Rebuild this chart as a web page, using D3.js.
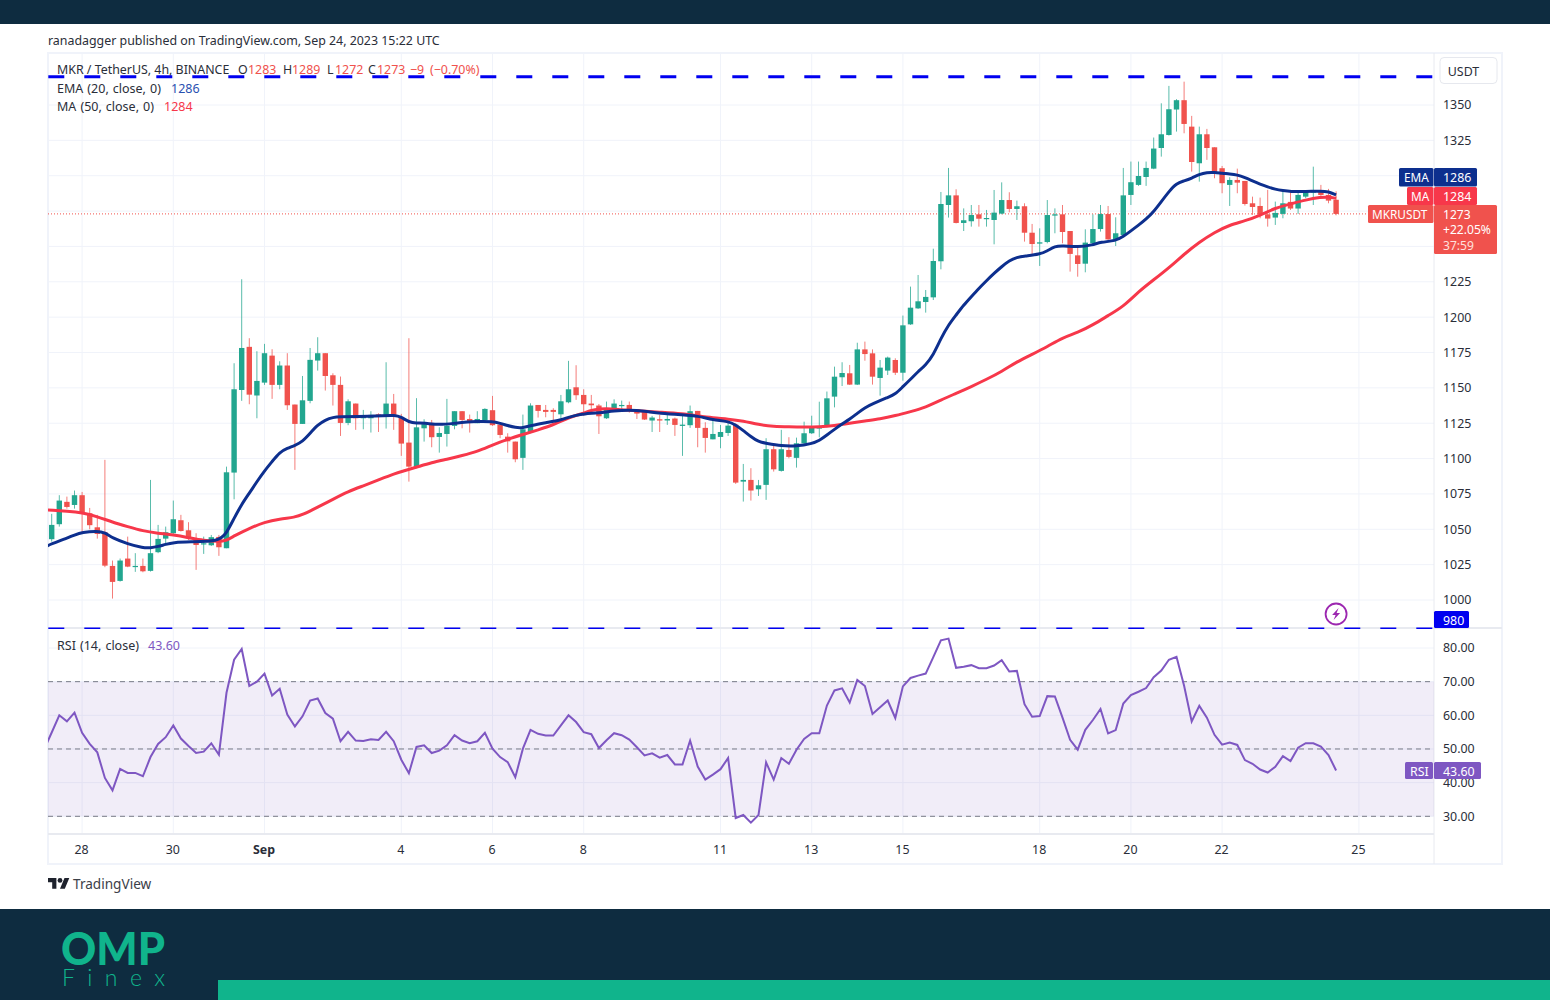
<!DOCTYPE html>
<html>
<head>
<meta charset="utf-8">
<script src="https://cdn.jsdelivr.net/npm/d3@7"></script>
<style>
    html, body { margin: 0; padding: 0; background: #fff; }
    svg { display: block; }
</style>
</head>
<body>
<div id="chart"></div>
<script>
// candles, 4h, one entry per bar
const open = [
    1043.0,1053.6,1069.4,1067.2,1074.1,1061.3,1051.4,1047.9,1024.1,1013.5,
    1029.3,1023.6,1024.1,1020.6,1033.8,1043.4,1047.2,1056.4,1049.3,1043.7,
    1039.4,1038.7,1044.6,1036.6,1090.1,1148.5,1179.0,1144.6,1153.7,1172.8,
    1152.1,1165.8,1138.2,1124.5,1140.8,1169.3,1174.5,1158.9,1152.1,1125.2,
    1138.9,1128.5,1128.5,1131.3,1129.9,1138.9,1129.0,1111.3,1093.9,1121.4,
    1125.2,1115.3,1117.4,1123.1,1133.5,1128.0,1125.0,1127.1,1134.2,1124.0,
    1115.5,1112.0,1100.5,1118.4,1137.9,1134.4,1134.4,1131.3,1139.8,1150.4,
    1145.0,1138.9,1137.5,1128.5,1133.9,1137.2,1137.9,1134.9,1133.5,1126.9,
    1127.8,1126.9,1128.3,1123.1,1123.6,1133.7,1121.7,1113.6,1115.3,1118.1,
    1124.0,1083.7,1084.9,1078.3,1081.4,1106.6,1091.3,1106.1,1100.5,1110.8,
    1117.9,1121.2,1122.6,1143.8,1157.5,1160.3,1152.3,1177.2,1174.4,1157.0,
    1162.2,1169.7,1160.7,1194.9,1206.2,1210.7,1214.0,1239.5,1279.3,1286.1,
    1266.6,1267.8,1272.7,1269.4,1268.7,1273.2,1282.8,1276.5,1278.4,1259.7,
    1252.0,1253.1,1271.8,1272.7,1260.9,1243.7,1237.8,1252.2,1262.3,1272.9,
    1255.0,1258.1,1286.4,1293.5,1299.1,1305.0,1319.6,1328.8,1346.8,1353.4,
    1334.7,1308.8,1329.3,1320.1,1305.3,1293.5,1297.0,1296.3,1280.5,1278.6,
    1272.7,1270.4,1273.0,1281.5,1276.8,1285.2,1288.0,1289.5,1286.4,1283
];
const close = [
    1053.1,1070.3,1065.8,1074.1,1061.8,1052.9,1046.7,1024.3,1012.8,1027.9,
    1023.6,1024.1,1020.3,1033.1,1043.2,1047.9,1057.1,1048.8,1043.7,1038.9,
    1040.1,1044.4,1037.3,1090.3,1149.0,1178.2,1145.2,1154.9,1174.5,1152.1,
    1165.8,1137.7,1124.5,1141.2,1169.8,1174.5,1158.4,1152.1,1125.2,1140.5,
    1128.5,1130.4,1130.9,1129.4,1138.9,1129.9,1110.6,1094.3,1122.1,1124.3,
    1115.1,1118.1,1123.3,1133.5,1127.3,1125.2,1128.0,1135.1,1123.6,1116.7,
    1112.2,1099.5,1120.7,1137.5,1133.7,1133.0,1133.0,1140.5,1149.0,1144.8,
    1138.4,1137.7,1129.9,1134.9,1138.9,1137.9,1134.9,1131.8,1127.6,1129.0,
    1126.9,1128.0,1123.8,1124.0,1133.5,1121.7,1114.6,1117.4,1118.8,1123.3,
    1083.0,1084.9,1077.4,1081.1,1106.6,1092.4,1106.6,1101.2,1110.8,1117.9,
    1122.1,1122.1,1142.6,1157.9,1160.5,1152.3,1177.2,1173.9,1157.9,1164.3,
    1171.4,1160.7,1194.2,1206.7,1211.2,1214.3,1239.7,1280.0,1286.1,1266.6,
    1268.5,1272.2,1269.6,1270.1,1273.9,1282.8,1276.5,1278.4,1259.7,1251.7,
    1252.9,1272.2,1272.7,1260.2,1244.7,1237.6,1252.7,1262.3,1272.9,1255.0,
    1259.3,1286.1,1295.4,1299.8,1305.5,1319.2,1329.3,1347.0,1353.4,1336.6,
    1309.7,1329.3,1319.6,1301.3,1294.7,1297.0,1295.1,1280.0,1277.9,1272.7,
    1269.7,1273.7,1280.5,1276.8,1286.4,1289.5,1289.2,1286.4,1282.4,1273
];
const high = [
    1060.9,1074.1,1073.1,1077.4,1076.4,1065.1,1060.2,1099.1,1027.9,1029.3,
    1044.8,1033.1,1029.3,1084.9,1053.1,1051.9,1070.3,1060.2,1055.0,1047.2,
    1044.8,1046.0,1046.0,1094.3,1167.4,1226.8,1185.1,1175.9,1181.1,1177.3,
    1168.8,1174.5,1138.2,1158.4,1178.2,1185.8,1174.5,1160.3,1158.0,1141.9,
    1138.9,1134.4,1133.5,1132.0,1168.1,1145.7,1131.6,1185.1,1142.7,1127.8,
    1127.3,1122.1,1142.2,1133.5,1133.5,1131.1,1133.5,1135.6,1144.3,1124.0,
    1117.9,1112.0,1131.1,1139.1,1137.9,1137.9,1135.6,1145.0,1169.1,1166.0,
    1149.0,1145.0,1138.6,1140.3,1141.9,1141.0,1140.3,1134.9,1133.9,1130.2,
    1130.9,1130.9,1129.0,1131.6,1137.5,1133.7,1125.7,1128.5,1123.8,1128.5,
    1125.0,1096.2,1093.2,1084.9,1114.4,1110.8,1120.3,1115.1,1114.8,1126.1,
    1130.3,1140.2,1147.4,1165.0,1168.1,1166.2,1181.9,1182.7,1177.2,1169.7,
    1172.1,1170.9,1201.1,1221.6,1229.8,1219.2,1248.4,1288.5,1305.5,1290.4,
    1276.9,1279.3,1279.3,1275.8,1289.9,1295.3,1288.3,1282.4,1280.5,1265.9,
    1262.8,1282.8,1276.9,1279.3,1260.9,1249.8,1262.1,1272.7,1279.3,1278.6,
    1270.6,1305.5,1310.0,1310.0,1310.0,1327.0,1351.2,1363.5,1354.1,1366.5,
    1342.3,1334.7,1333.1,1320.1,1306.9,1298.9,1305.0,1296.3,1285.2,1284.5,
    1290.0,1281.7,1288.8,1289.5,1289.5,1289.5,1306.4,1293.5,1290.7,1289
];
const low = [
    1041.3,1051.9,1064.6,1064.6,1047.2,1050.0,1043.4,1023.2,1001.0,1013.0,
    1023.2,1019.9,1019.6,1020.1,1033.1,1038.9,1046.7,1048.4,1042.5,1021.3,
    1032.6,1038.2,1031.2,1036.6,1071.2,1140.8,1138.4,1128.5,1152.1,1142.2,
    1149.0,1134.4,1092.0,1124.5,1139.1,1162.2,1148.1,1137.5,1116.0,1123.6,
    1120.3,1120.7,1118.4,1118.8,1121.2,1120.3,1101.9,1083.7,1093.2,1112.0,
    1108.0,1104.2,1108.5,1120.7,1121.4,1118.4,1125.0,1126.2,1123.1,1114.4,
    1104.2,1097.4,1092.0,1117.9,1129.0,1129.2,1127.3,1128.5,1139.1,1141.5,
    1130.2,1132.0,1117.4,1128.0,1133.5,1133.5,1132.5,1128.0,1127.3,1118.8,
    1118.8,1123.8,1116.0,1101.9,1121.7,1108.0,1104.2,1113.6,1107.3,1116.0,
    1082.1,1069.6,1070.3,1073.6,1070.8,1090.8,1090.8,1100.2,1093.6,1109.6,
    1117.4,1115.0,1122.1,1136.2,1151.3,1152.0,1152.0,1169.2,1152.3,1144.5,
    1159.1,1159.1,1155.1,1194.5,1205.8,1203.2,1212.1,1233.8,1270.4,1266.3,
    1260.9,1264.0,1264.0,1264.0,1251.5,1272.7,1274.1,1268.7,1253.4,1243.2,
    1236.2,1252.2,1259.3,1252.2,1232.2,1228.6,1231.7,1251.7,1260.5,1254.6,
    1250.3,1256.9,1279.3,1292.8,1292.8,1304.6,1313.5,1328.4,1331.2,1330.0,
    1302.9,1295.8,1311.2,1298.2,1287.6,1278.6,1287.6,1278.9,1272.3,1269.9,
    1264.0,1265.2,1269.9,1275.8,1273.0,1284.1,1279.3,1285.7,1280.5,1272
];

// EMA 20 at these bars
const emaBars = [-1,0,2,3,4,6,7,8,10,12,13,14,15,16,18,22,23,24,25,26,27,28,29,30,31,32,33,34,35,36,37,38,40,44,45,46,47,48,
    49,51,53,56,58,59,60,61,62,63,65,67,68,69,70,72,74,76,78,80,83,85,87,89,90,91,92,93,94,96,98,
    100,101,102,103,104,105,106,107,108,110,111,112,113,114,115,116,117,118,119,120,121,122,123,124,125,126,127,128,130,131,132,133,135,137,138,140,141,
    142,143,144,145,146,147,148,149,150,151,152,153,154,155,156,157,158,159,160,161,162,163,165,167,168,169];
const emaValues = [1037.3,1039.7,1043.7,1046.0,1047.9,1048.8,1047.7,1043.7,1039.7,1036.8,1036.8,1037.8,1039.4,1040.6,1041.3,1041.3,1047.2,1057.8,1067.7,1075.5,1083.7,1091.3,1097.9,1104.5,1107.3,1109.2,1112.0,1117.9,1123.8,1127.3,1129.2,1129.5,1129.7,1130.4,1130.6,1129.5,1125.7,1125.0,
    1125.2,1123.8,1125.0,1126.4,1126.2,1125.0,1123.3,1121.9,1121.7,1123.3,1125.4,1127.3,1129.2,1130.6,1131.6,1132.3,1133.7,1134.4,1133.5,1132.0,1130.9,1130.2,1127.3,1126.4,1123.8,1119.8,1115.5,1111.8,1110.8,1108.9,1108.7,
    1110.5,1112.7,1116.7,1120.7,1124.5,1127.8,1132.0,1136.0,1138.6,1143.3,1145.4,1150.9,1156.0,1161.5,1166.2,1173.2,1185.0,1194.5,1201.5,1208.6,1214.5,1220.4,1225.8,1231.0,1235.7,1240.0,1242.3,1243.2,1244.4,1246.8,1250.1,1250.6,1249.4,1251.0,1253.1,1253.9,1257.0,
    1261.0,1265.0,1269.2,1274.6,1281.7,1288.8,1294.7,1296.3,1298.2,1301.0,1302.4,1302.4,1301.7,1301.3,1300.6,1298.7,1296.3,1294.0,1292.1,1290.4,1289.5,1288.8,1288.8,1289.2,1288.8,1286.4];

// MA 50
const maBars = [-1,0,2,4,6,8,10,12,14,16,18,20,22,23,24,26,28,30,32,33,35,37,39,41,43,45,47,48,
    50,52,54,56,58,60,62,64,66,68,70,71,73,75,77,80,83,85,87,89,91,93,95,97,99,101,
    103,105,107,109,111,113,115,117,119,121,123,125,127,129,131,133,135,137,139,141,143,
    145,147,149,151,153,155,157,159,161,163,165,167,168,169];
const maValues = [1063.7,1063.5,1062.8,1061.8,1059.0,1055.0,1051.9,1048.8,1047.2,1046.0,1044.1,1042.0,1041.3,1042.0,1045.3,1050.7,1055.0,1057.3,1058.5,1060.2,1065.6,1071.2,1076.7,1080.7,1084.9,1089.2,1092.4,1093.9,
    1097.2,1099.5,1102.1,1104.9,1109.7,1113.7,1117.0,1120.3,1123.8,1129.0,1132.0,1134.4,1135.6,1134.4,1133.9,1132.8,1131.8,1130.2,1128.7,1128.0,1126.6,1124.0,1122.6,1122.4,1122.4,1122.4,
    1123.3,1124.9,1126.6,1128.0,1130.3,1133.2,1136.2,1141.4,1146.1,1150.9,1156.0,1161.5,1168.5,1173.7,1179.1,1185.5,1189.0,1194.5,1201.1,1207.4,1218.0,
    1226.4,1234.8,1244.5,1253.0,1260.0,1265.2,1268.0,1272.0,1277.2,1280.0,1282.9,1284.8,1285.0,1284];

// RSI 14, first value is the bar just off the left edge
const rsiValues = [49.8,
    54.9,60.0,58.2,60.8,54.8,51.5,49.0,41.4,37.7,44.1,
    42.9,42.9,41.9,47.6,51.5,53.5,57.0,53.1,50.9,48.8,
    49.2,51.7,48.3,66.7,76.5,79.7,68.7,70.0,72.4,65.9,
    67.9,60.2,56.7,59.7,64.4,65.0,60.7,59.0,52.3,55.1,
    52.5,52.4,52.9,52.7,55.1,52.3,46.8,42.8,50.6,51.1,
    48.8,49.5,51.1,54.1,52.5,51.7,52.3,54.8,50.1,47.6,
    46.1,41.6,50.1,55.7,54.5,54.0,54.0,57.0,60.0,58.0,
    55.0,54.4,50.3,52.6,54.7,54.1,52.8,50.5,48.1,48.7,
    47.4,48.2,45.4,45.4,52.5,44.8,40.9,42.4,44.0,47.3,
    29.5,30.4,28.1,30.4,46.0,40.9,47.3,45.6,49.8,53.0,
    54.7,54.7,62.9,67.4,68.0,63.8,70.5,68.7,60.4,62.4,
    64.4,59.2,68.6,71.1,71.8,72.4,77.3,82.3,82.8,74.1,
    74.4,74.9,74.0,74.0,74.8,76.4,73.0,73.2,63.3,59.6,
    59.8,65.7,65.6,59.3,52.7,49.8,55.7,58.6,61.9,54.6,
    55.6,63.5,66.0,67.0,68.1,71.3,73.3,76.5,77.4,68.8,
    58.2,62.8,59.3,54.2,51.3,51.9,51.2,46.7,45.6,43.9,
    43.0,44.7,47.9,46.4,50.4,51.7,51.7,50.7,48.2,43.6
];

const priceGrid = [1000,1025,1050,1075,1100,1125,1150,1175,1200,1225,1250,1275,1300,1325,1350];
const priceLabels = [1000,1025,1050,1075,1100,1125,1150,1175,1200,1225,1325,1350];
const rsiTicks = [30,40,50,60,70,80];
const rsiLevels = [30,50,70];
const dateBars = [4,16,28,46,58,70,88,100,112,130,142,154,172];
const dateLabels = ["28","30","Sep","4","6","8","11","13","15","18","20","22","25"];
const resistance = 1370;
const support = 980;

const width = 1550, height = 1000;
const left = 48, right = 1502, axisX = 1434;
const mainTop = 53, mainBottom = 628, rsiBottom = 834, chartBottom = 864;

const up = "#22a68f", down = "#f0524d", emaColor = "#0d2f8e", maColor = "#f7374a", rsiColor = "#7e57c2";
const navy = "#0e2c40", teal = "#10b48c";
const textColor = "#2a2e39", font = "'Noto Sans', sans-serif";

const x = d3.scaleLinear().domain([0, 169]).range([51.7, 51.7 + 7.6 * 169]);
const y = d3.scaleLinear().domain([1000, 1350]).range([600, 105]);
const yRsi = d3.scaleLinear().domain([30, 80]).range([816.3, 648]);

const svg = d3.select("#chart").append("svg")
    .attr("width", width)
    .attr("height", height)
    .attr("viewBox", [0, 0, width, height])
    .style("font-family", font);

svg.append("defs").append("clipPath").attr("id", "main-clip")
    .append("rect").attr("x", left).attr("y", mainTop).attr("width", axisX - left).attr("height", mainBottom - mainTop);
svg.select("defs").append("clipPath").attr("id", "rsi-clip")
    .append("rect").attr("x", left).attr("y", mainBottom).attr("width", axisX - left).attr("height", rsiBottom - mainBottom);

// banner top and bottom
svg.append("rect").attr("width", width).attr("height", 24).attr("fill", navy);
svg.append("rect").attr("y", 909).attr("width", width).attr("height", 91).attr("fill", navy);
svg.append("rect").attr("x", 218).attr("y", 980).attr("width", width - 218).attr("height", 20).attr("fill", teal);
svg.append("text").attr("x", 61).attr("y", 965).text("OMP")
    .attr("font-family", "Lato, sans-serif").attr("font-weight", 900).attr("font-size", 45)
    .attr("textLength", 104).attr("lengthAdjust", "spacingAndGlyphs").attr("fill", teal);
svg.append("text").attr("x", 62).attr("y", 986).text("Finex")
    .attr("font-family", "Lato, sans-serif").attr("font-weight", 300).attr("font-size", 23)
    .attr("textLength", 103).attr("fill", teal);

svg.append("text").attr("x", 48).attr("y", 44.5).attr("font-size", 12.4).attr("fill", textColor)
    .text("ranadagger published on TradingView.com, Sep 24, 2023 15:22 UTC");

// grid
const grid = svg.append("g").attr("stroke", "#f0f3fa").attr("stroke-width", 1);
grid.selectAll(".h").data(priceGrid).join("line").attr("class", "h")
    .attr("x1", left).attr("x2", axisX).attr("y1", d => y(d)).attr("y2", d => y(d));
grid.selectAll(".r").data(rsiTicks).join("line").attr("class", "r")
    .attr("x1", left).attr("x2", axisX).attr("y1", d => yRsi(d)).attr("y2", d => yRsi(d));
grid.selectAll(".v").data(dateBars).join("line").attr("class", "v")
    .attr("x1", d => x(d)).attr("x2", d => x(d)).attr("y1", mainTop).attr("y2", rsiBottom);

// chart frame and pane separators
const frame = svg.append("g").attr("stroke", "#e8eaf0").attr("fill", "none");
frame.append("rect").attr("x", left).attr("y", mainTop).attr("width", right - left).attr("height", chartBottom - mainTop).attr("stroke", "#f0f3fa").attr("stroke-width", 2);
frame.append("line").attr("x1", axisX).attr("x2", axisX).attr("y1", mainTop).attr("y2", chartBottom);
frame.append("line").attr("x1", left).attr("x2", right).attr("y1", mainBottom).attr("y2", mainBottom).attr("stroke-width", 2);
frame.append("line").attr("x1", left).attr("x2", axisX).attr("y1", rsiBottom).attr("y2", rsiBottom).attr("stroke-width", 2);

// last price dotted line
svg.append("line").attr("x1", left).attr("x2", axisX).attr("y1", y(1273)).attr("y2", y(1273))
    .attr("stroke", down).attr("stroke-dasharray", "1 2");

// legend text, sits under the drawn resistance line
const legendRow = [
    ["MKR / TetherUS, 4h, BINANCE", 57, textColor],
    ["O", 238, textColor], ["1283", 248, down],
    ["H", 283, textColor], ["1289", 292, down],
    ["L", 327, textColor], ["1272", 335, down],
    ["C", 368, textColor], ["1273", 377, down],
    ["−9", 410, down], ["(−0.70%)", 430, down]
];
svg.append("g").attr("font-size", 12.4).selectAll("text").data(legendRow).join("text")
    .attr("x", d => d[1]).attr("y", 74).attr("fill", d => d[2]).text(d => d[0]);
const legend = (label, lx, value, vx, color, ly) => {
    svg.append("text").attr("x", lx).attr("y", ly).attr("font-size", 12.5).attr("word-spacing", 0.8).attr("fill", textColor).text(label);
    svg.append("text").attr("x", vx).attr("y", ly).attr("font-size", 12.5).attr("fill", color).text(value);
};
legend("EMA (20, close, 0)", 57, "1286", 171, "#2850b0", 92.5);
legend("MA (50, close, 0)", 57, "1284", 164, maColor, 111);
legend("RSI (14, close)", 57, "43.60", 148, rsiColor, 649.5);

// candles
const bars = d3.range(open.length);
const main = svg.append("g").attr("clip-path", "url(#main-clip)");
main.append("g").selectAll("line").data(bars).join("line")
    .attr("x1", i => x(i)).attr("x2", i => x(i))
    .attr("y1", i => y(high[i])).attr("y2", i => y(low[i]))
    .attr("stroke", i => close[i] >= open[i] ? up : down)
    .attr("stroke-opacity", 0.75);
main.append("g").selectAll("rect").data(bars).join("rect")
    .attr("x", i => x(i) - 2.7).attr("width", 5.4)
    .attr("y", i => y(Math.max(open[i], close[i])))
    .attr("height", i => Math.max(1.2, Math.abs(y(open[i]) - y(close[i]))))
    .attr("fill", i => close[i] >= open[i] ? up : down);

// moving averages
const curve = d3.line().x(d => x(d[0])).y(d => y(d[1])).curve(d3.curveBasis);
main.append("path").datum(d3.zip(maBars, maValues)).attr("d", curve)
    .attr("fill", "none").attr("stroke", maColor).attr("stroke-width", 3);
main.append("path").datum(d3.zip(emaBars, emaValues)).attr("d", curve)
    .attr("fill", "none").attr("stroke", emaColor).attr("stroke-width", 3);

// horizontal levels drawn on the chart
svg.append("line").attr("x1", left + 0.3).attr("x2", axisX).attr("y1", y(resistance)).attr("y2", y(resistance))
    .attr("stroke", "#0000f0").attr("stroke-width", 3).attr("stroke-dasharray", "16 20");
svg.append("line").attr("x1", left + 0.3).attr("x2", axisX).attr("y1", y(support)).attr("y2", y(support))
    .attr("stroke", "#0000f0").attr("stroke-width", 1.6).attr("stroke-dasharray", "16 20");

// rsi pane
const rsi = svg.append("g").attr("clip-path", "url(#rsi-clip)");
rsi.append("rect").attr("x", left).attr("width", axisX - left)
    .attr("y", yRsi(70)).attr("height", yRsi(30) - yRsi(70))
    .attr("fill", rsiColor).attr("fill-opacity", 0.11);
rsi.selectAll(".level").data(rsiLevels).join("line").attr("class", "level")
    .attr("x1", left).attr("x2", axisX).attr("y1", d => yRsi(d)).attr("y2", d => yRsi(d))
    .attr("stroke", "#787b86").attr("stroke-dasharray", "5 4");
rsi.append("path").datum(rsiValues)
    .attr("d", d3.line().x((d, i) => x(i - 1)).y(d => yRsi(d)))
    .attr("fill", "none").attr("stroke", rsiColor).attr("stroke-width", 2);

// axes
const styleAxis = g => g.call(a => a.select(".domain").remove())
    .call(a => a.selectAll("text").attr("fill", textColor))
    .attr("font-family", font).attr("font-size", 12.4);
svg.append("g").attr("transform", `translate(${axisX},0)`)
    .call(d3.axisRight(y).tickValues(priceLabels).tickSize(0).tickPadding(9).tickFormat(d => d))
    .call(styleAxis);
svg.append("g").attr("transform", `translate(${axisX},0)`)
    .call(d3.axisRight(yRsi).tickValues(rsiTicks).tickSize(0).tickPadding(9).tickFormat(d3.format(".2f")))
    .call(styleAxis);
svg.append("g").attr("transform", `translate(-1,${rsiBottom})`)
    .call(d3.axisBottom(x).tickValues(dateBars).tickSize(0).tickPadding(11).tickFormat((d, i) => dateLabels[i]))
    .call(styleAxis)
    .call(a => a.selectAll("text").attr("font-weight", (d, i) => dateLabels[i] === "Sep" ? 700 : 400));

// currency button
svg.append("rect").attr("x", 1440).attr("y", 57.5).attr("width", 57).attr("height", 26).attr("rx", 4)
    .attr("fill", "#fff").attr("stroke", "#e6e8ee");
svg.append("text").attr("x", 1463.5).attr("y", 75.5).attr("text-anchor", "middle").attr("font-size", 12.4).attr("fill", textColor).text("USDT");

// price tags on the axis
const tag = (tx, ty, w, h, color, lines, anchorX, size = 12.4) => {
    svg.append("rect").attr("x", tx).attr("y", ty).attr("width", w).attr("height", h).attr("rx", 1.5).attr("fill", color);
    lines.forEach((t, i) => svg.append("text").attr("x", anchorX).attr("y", ty + 13.5 + i * 15.5)
        .attr("font-size", size).attr("fill", i === 2 ? "#ffe0dc" : "#fff").text(t));
};
tag(1399, 168, 34.5, 18.5, emaColor, ["EMA"], 1404, 11.8);
tag(1434, 168, 43, 18.5, emaColor, ["1286"], 1443);
tag(1407, 187, 26.5, 18, maColor, ["MA"], 1411, 11.8);
tag(1434, 187, 43, 18, maColor, ["1284"], 1443);
tag(1368, 205, 65.5, 18, down, ["MKRUSDT"], 1372, 11.8);
tag(1434, 205, 63, 49, down, ["1273", "+22.05%", "37:59"], 1443, 12.1);
tag(1405, 762, 28, 17, rsiColor, ["RSI"], 1410);
tag(1434, 762, 47, 17, rsiColor, ["43.60"], 1443);
tag(1434, 611, 35, 17, "#0000f0", ["980"], 1443);

// bolt marker
const bolt = svg.append("g").attr("transform", `translate(${x(169)},614)`);
bolt.append("circle").attr("r", 10.5).attr("fill", "#fff").attr("stroke", "#9c27b0").attr("stroke-width", 1.8);
bolt.append("path").attr("d", "M2.5 -6 L-4 1 L-0.5 1 L-2.5 6 L4 -1 L0.5 -1 Z").attr("fill", "#9c27b0");

// tradingview mark
svg.append("g").attr("transform", "translate(48,875.6) scale(0.6)").attr("fill", "#1e222d")
    .call(g => g.append("path").attr("d", "M14 22H7V11H0V4h14v18zM28 22h-8l7.5-18h8L28 22z"))
    .call(g => g.append("circle").attr("cx", 20).attr("cy", 8).attr("r", 4));
svg.append("text").attr("x", 73).attr("y", 889).attr("font-size", 13.6).attr("fill", "#3c4048").text("TradingView");
</script>
</body>
</html>
